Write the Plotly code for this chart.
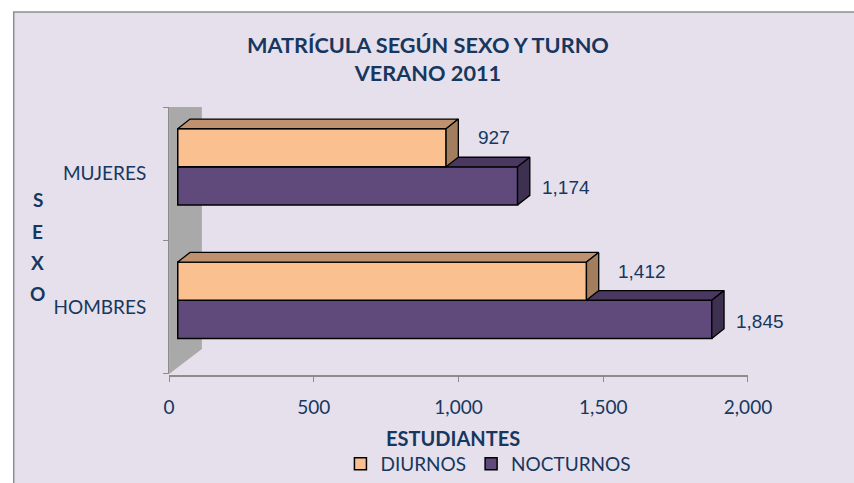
import plotly.graph_objects as go

# ---------------- data ----------------
CATEGORIES = ["HOMBRES", "MUJERES"]
SERIES = ["DIURNOS", "NOCTURNOS"]
DIURNOS = [1412, 927]
NOCTURNOS = [1845, 1174]
X_TICKS = [0, 500, 1000, 1500, 2000]
TITLE = "MATRÍCULA SEGÚN SEXO Y TURNO<br>VERANO 2011"
X_TITLE = "ESTUDIANTES"
Y_TITLE = "SEXO"

# ---------------- style / layout ----------------
W, H = 854, 483
FONT = "Lato"
LABEL_FONT = "Liberation Sans"
TXT = "#17375E"
BG = "#E5E0EC"
AXIS_GRAY = "#8C8C8C"
WALL = "#A9A9A9"
COLORS = {
    "DIURNOS": dict(front="#FAC090", top="#C0916E", side="#A27E5E"),
    "NOCTURNOS": dict(front="#604A7B", top="#4A3860", side="#3E3050"),
}

X_MAX = 2000
X0_PX, X1_PX = 169, 769          # value axis 0 .. 2000 (px)
YB_PX, YT_PX = 377, 108          # category band bottom / top (px)
PXU = (X1_PX - X0_PX) / X_MAX    # px per value unit
BAND = (YB_PX - YT_PX) / 2       # px per category
FRONT_DX, FRONT_DY = 9, 7        # front face offset (px)
DEPTH_DX, DEPTH_DY = 12.7, 9.7   # bar depth (px)
WALL_DX, WALL_DY = 34, 25        # wall depth (px)
BAR_W = 0.286
X2_PAD = 60


def fx(px):
    return px / W


def fy(py):
    return (H - py) / H


DXU = DEPTH_DX / PXU
DYU = DEPTH_DY / BAND
pos = list(range(len(CATEGORIES)))

fig = go.Figure()

# layering: NOCTURNOS (lower bars) on x2/y2, DIURNOS on x3/y3 drawn above
plan = [("NOCTURNOS", NOCTURNOS, -BAR_W, "x2", "y2", 2, 22, -2),
        ("DIURNOS", DIURNOS, 0.0, "x3", "y3", 1, 29.5, 10)]

annotations = []
for name, vals, off, xa, ya, rank, lx, ly in plan:
    c = COLORS[name]
    fig.add_trace(go.Bar(
        x=vals, y=pos, orientation="h", width=BAR_W, offset=off, base=0,
        name=name, legendrank=rank,
        marker=dict(color=c["front"], line=dict(color="black", width=1.5)),
        xaxis=xa, yaxis=ya, hoverinfo="x+name",
    ))
    for v, p in zip(vals, pos):
        y0, y1 = p + off, p + off + BAR_W
        # top face
        fig.add_trace(go.Scatter(
            x=[0, v, v + DXU, DXU, 0], y=[y1, y1, y1 + DYU, y1 + DYU, y1],
            mode="lines", fill="toself", fillcolor=c["top"],
            line=dict(color="black", width=1.3), showlegend=False,
            hoverinfo="skip", xaxis=xa, yaxis=ya))
        # side face
        fig.add_trace(go.Scatter(
            x=[v, v, v + DXU, v + DXU, v], y=[y0, y1, y1 + DYU, y0 + DYU, y0],
            mode="lines", fill="toself", fillcolor=c["side"],
            line=dict(color="black", width=1.3), showlegend=False,
            hoverinfo="skip", xaxis=xa, yaxis=ya))
        annotations.append(dict(
            x=v, y=(y0 + y1) / 2, xref=xa, yref=ya, text=f"{v:,}",
            showarrow=False, xanchor="left", yanchor="middle",
            xshift=lx, yshift=ly,
            font=dict(family=LABEL_FONT, size=19, color=TXT)))

# title
annotations.append(dict(
    x=fx(437.5), y=fy(59), xref="paper", yref="paper", text=f"<b>{TITLE}</b>",
    showarrow=False, xanchor="center", yanchor="middle",
    font=dict(family=FONT, size=21.7, color=TXT)))
# x title
annotations.append(dict(
    x=fx(463), y=fy(442), xref="paper", yref="paper", text=f"<b>{X_TITLE}</b>",
    showarrow=False, xanchor="center", yanchor="middle",
    font=dict(family=FONT, size=20, color=TXT)))
# y title (stacked letters)
for i, ch in enumerate(Y_TITLE):
    annotations.append(dict(
        x=fx(33), y=fy(201.5 + i * 31.5), xref="paper", yref="paper",
        text=f"<b>{ch}</b>", showarrow=False, xanchor="center", yanchor="middle",
        font=dict(family=FONT, size=19, color=TXT)))

shapes = [
    # chart area background + border
    dict(type="rect", xref="paper", yref="paper", x0=fx(8), x1=1.05,
         y0=-0.05, y1=fy(12), fillcolor=BG,
         line=dict(color="#8E8E8E", width=1.5), layer="below"),
    # back wall
    dict(type="path", xref="x", yref="y", layer="below",
         path=(f"M 0,-0.5 L 0,1.5 L {WALL_DX / PXU},{1.5 + WALL_DY / BAND} "
               f"L {WALL_DX / PXU},{-0.5 + WALL_DY / BAND} Z"),
         fillcolor=WALL, line=dict(width=0)),
]

hidden = dict(visible=False, showgrid=False, zeroline=False, fixedrange=True)
x2dom = [fx(X0_PX + FRONT_DX - X2_PAD * PXU), fx(X1_PX + FRONT_DX)]
y2dom = [fy(YB_PX - FRONT_DY), fy(YT_PX - FRONT_DY)]

fig.update_layout(
    width=W, height=H,
    margin=dict(l=0, r=0, t=0, b=0),
    paper_bgcolor="white", plot_bgcolor="rgba(0,0,0,0)",
    showlegend=True, barmode="overlay", hovermode=False,
    legend=dict(orientation="h", x=fx(500), xanchor="center", y=fy(468),
                yanchor="middle", font=dict(family=FONT, size=19, color=TXT),
                bgcolor="rgba(0,0,0,0)", traceorder="normal"),
    xaxis=dict(domain=[fx(X0_PX), fx(X1_PX)], range=[0, X_MAX],
               tickvals=X_TICKS, tickformat=",", ticks="outside", ticklen=5,
               tickcolor=AXIS_GRAY, showline=True, linecolor=AXIS_GRAY,
               linewidth=1.5, showgrid=False, zeroline=False,
               anchor="free", position=fy(379), ticklabelstandoff=10,
               tickfont=dict(family=FONT, size=19, color=TXT), fixedrange=True),
    yaxis=dict(domain=[fy(YB_PX), fy(YT_PX)], range=[-0.5, 1.5],
               tickvals=pos, ticktext=CATEGORIES, ticks="",
               minor=dict(tickvals=[-0.5, 0.5, 1.5], ticks="outside",
                          ticklen=5, tickcolor=AXIS_GRAY),
               showline=True, linecolor=AXIS_GRAY, linewidth=1,
               showgrid=False, zeroline=False, ticklabelstandoff=18,
               tickfont=dict(family=FONT, size=19, color=TXT), fixedrange=True),
    xaxis2=dict(domain=x2dom, range=[-X2_PAD, X_MAX], anchor="y2", **hidden),
    yaxis2=dict(domain=y2dom, range=[-0.5, 1.5], anchor="x2", **hidden),
    xaxis3=dict(domain=x2dom, range=[-X2_PAD, X_MAX], anchor="y3", **hidden),
    yaxis3=dict(domain=y2dom, range=[-0.5, 1.5], anchor="x3", **hidden),
    annotations=annotations,
    shapes=shapes,
)

# place the figure flush with the page corner (no default body margin)
fig.write_html(
    "out.html",
    config={"displayModeBar": False, "staticPlot": False},
    post_script="document.body.style.margin='0';"
                "document.body.style.overflow='hidden';",
)
